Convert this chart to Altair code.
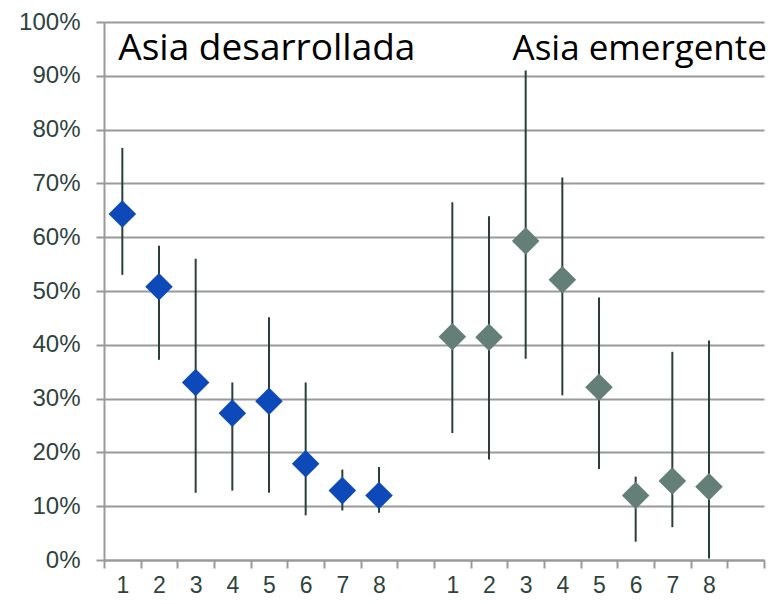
import altair as alt
import pandas as pd

# Data
groups = ["Asia desarrollada", "Asia emergente"]
labels_dev = ["1", "2", "3", "4", "5", "6", "7", "8"]
mean_dev = [0.643, 0.508, 0.330, 0.273, 0.295, 0.179, 0.129, 0.120]
low_dev = [0.530, 0.372, 0.125, 0.129, 0.125, 0.083, 0.092, 0.088]
high_dev = [0.766, 0.584, 0.560, 0.330, 0.451, 0.330, 0.168, 0.173]

labels_em = ["1", "2", "3", "4", "5", "6", "7", "8"]
mean_em = [0.415, 0.414, 0.593, 0.521, 0.321, 0.120, 0.147, 0.136]
low_em = [0.236, 0.187, 0.374, 0.306, 0.169, 0.034, 0.061, 0.003]
high_em = [0.665, 0.639, 0.910, 0.711, 0.488, 0.155, 0.387, 0.408]

colors = ["#0E49BA", "#637F78"]

# slots: 8 categories, one empty slot, 8 categories, one empty slot
n_slots = 18
rows = []
for i, lab in enumerate(labels_dev):
    rows.append(dict(group=groups[0], label=lab, slot=i + 0.5,
                     mean=mean_dev[i], low=low_dev[i], high=high_dev[i]))
for i, lab in enumerate(labels_em):
    rows.append(dict(group=groups[1], label=lab, slot=9 + i + 0.5,
                     mean=mean_em[i], low=low_em[i], high=high_em[i]))
df = pd.DataFrame(rows)

title_dev = pd.DataFrame({"text": [groups[0]], "slot": [0.5], "mean": [0.93]})
title_em = pd.DataFrame({"text": [groups[1]], "slot": [11.25], "mean": [0.93]})

label_expr = (
    "datum.value % 1 == 0 ? '' : "
    "(floor(datum.value) < 8 ? '' + (floor(datum.value) + 1) : "
    "(floor(datum.value) >= 9 && floor(datum.value) <= 16 ? '' + (floor(datum.value) - 8) : ''))"
)

x_ticks = [i * 0.5 for i in range(0, 2 * n_slots + 1)]

x_axis = alt.Axis(
    values=x_ticks,
    labelExpr=label_expr,
    title=None,
    grid=False,
    domainColor="#999999",
    domainWidth=2,
    tickColor="#999999",
    tickWidth=2,
    tickSize=8,
    tickOpacity={"condition": {"test": "datum.value % 1 == 0", "value": 1}, "value": 0},
    labelFont="Liberation Sans",
    labelFontSize=23,
    labelColor="#2E433D",
    labelPadding=6,
    labelOverlap=False,
    labelFlush=False,
)
x_scale = alt.Scale(domain=[0, n_slots], nice=False, zero=False)
x_enc = alt.X("slot:Q", scale=x_scale, axis=x_axis)

y_axis = alt.Axis(
    values=[i / 10 for i in range(11)],
    format=".0%",
    title=None,
    grid=True,
    gridColor="#999999",
    gridWidth=2,
    domainColor="#999999",
    domainWidth=2,
    tickColor="#999999",
    tickWidth=2,
    tickSize=8,
    labelFont="Liberation Sans",
    labelFontSize=24,
    labelColor="#2E433D",
    labelPadding=16,
)
y_scale = alt.Scale(domain=[0, 1], nice=False)
y_enc = alt.Y("mean:Q", scale=y_scale, axis=y_axis)

bars = alt.Chart(df).mark_rule(color="#2B3F39", strokeWidth=2).encode(
    x=x_enc,
    y=alt.Y("low:Q", scale=y_scale, axis=y_axis),
    y2="high:Q",
)

points = alt.Chart(df).mark_point(
    shape="diamond", filled=True, size=760, opacity=1
).encode(
    x=x_enc,
    y=y_enc,
    color=alt.Color("group:N", scale=alt.Scale(domain=groups, range=colors), legend=None),
)

text_dev = alt.Chart(title_dev).mark_text(
    align="left", baseline="alphabetic", font="Open Sans", fontSize=37,
    color="#000000", dx=-4,
).encode(x=x_enc, y=y_enc, text="text:N")

text_em = alt.Chart(title_em).mark_text(
    align="left", baseline="alphabetic", font="Open Sans", fontSize=35,
    color="#000000", dx=-4,
).encode(x=x_enc, y=y_enc, text="text:N")

chart = alt.layer(bars, points, text_dev, text_em).properties(
    width=660,
    height=538,
    autosize=alt.AutoSizeParams(type="none"),
    padding={"left": 96, "top": 14, "right": 10, "bottom": 36},
).configure_view(stroke=None)

chart.save("out.html", embed_options={"renderer": "svg", "actions": False})
